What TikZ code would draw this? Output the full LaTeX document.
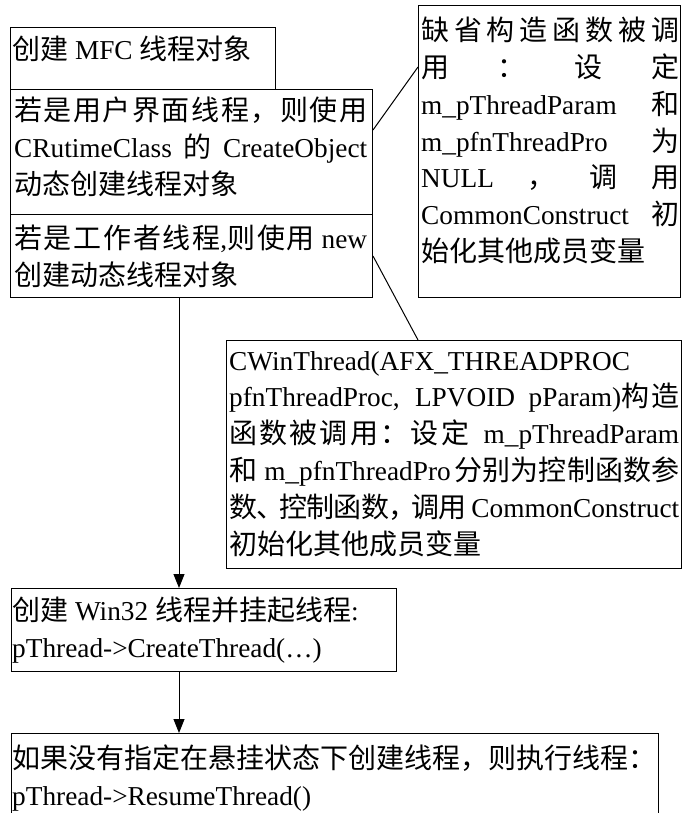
\documentclass[tikz,border=0pt]{standalone}
\usepackage{fontspec}
\setmainfont{Liberation Serif}
\newfontfamily\cjk[Scale=1.0256]{Noto Sans CJK SC}
\usetikzlibrary{arrows.meta}
% automatic switch to the CJK font for CJK characters
\XeTeXinterchartokenstate=1
\ifdefined\newXeTeXintercharclass
  \newXeTeXintercharclass\mycjk
\else
  \chardef\mycjk=20
\fi
\makeatletter
\count@="4E00
\loop \XeTeXcharclass\count@=\mycjk \ifnum\count@<"9FFF \advance\count@\@ne \repeat
\count@="3000
\loop \XeTeXcharclass\count@=\mycjk \ifnum\count@<"303F \advance\count@\@ne \repeat
\count@="FF00
\loop \XeTeXcharclass\count@=\mycjk \ifnum\count@<"FFEF \advance\count@\@ne \repeat
\makeatother
\XeTeXinterchartoks 0 \mycjk = {\begingroup\cjk}
\XeTeXinterchartoks 4095 \mycjk = {\begingroup\cjk}
\XeTeXinterchartoks \mycjk 0 = {\endgroup}
\XeTeXinterchartoks \mycjk 4095 = {\endgroup}
\XeTeXinterchartoks \mycjk \mycjk = {\hskip0pt plus 1pt minus 1pt\relax}
\newcommand\J[1]{\makebox[\linewidth][s]{#1}}
\newcommand\tb[3]{\parbox[t]{#1}{\fontsize{27.3}{#2}\selectfont #3}}
\newcommand\gap{\hfill{}}
\begin{document}
\begin{tikzpicture}[x=1pt,y=-1pt,
  box/.style={draw, line width=1pt, inner sep=0pt, anchor=north west},
  txt/.style={inner sep=0pt, anchor=base west},
  arr/.style={-{Triangle[length=14pt,width=11pt]}, line width=1pt},
  lnk/.style={line width=1pt}]
\clip (0,0) rectangle (682,813);
% boxes
\node[box, minimum width=265pt, minimum height=62pt] (b1) at (10,27) {};
\node[box, minimum width=362pt, minimum height=125pt] (b2) at (10,89) {};
\node[box, minimum width=362pt, minimum height=83pt] (b3) at (10,214) {};
\node[box, minimum width=262pt, minimum height=292pt] (br) at (418,5) {};
\node[box, minimum width=455pt, minimum height=228pt] (bw) at (226,340) {};
\node[box, minimum width=385pt, minimum height=83pt] (b5) at (11,588) {};
\node[box, minimum width=647pt, minimum height=120pt] (b6) at (11,733) {};
% texts
\node[txt] (t1) at (12,59.5) {\tb{260pt}{37}{创建 MFC 线程对象}};
\node[txt] (t2) at (14,121) {\tb{353pt}{37}{\J{若是用户界面线程，则使用}\\
  \J{CRutimeClass 的 CreateObject}\\
  动态创建线程对象}};
\node[txt] (t3) at (14,248) {\tb{353pt}{37}{\J{若是工作者线程,则使用\kern7pt new}\\
  创建动态线程对象}};
\node[txt] (tr) at (421,41) {\tb{258pt}{36.7}{\J{缺省构造函数被调}\\
  \J{用\gap ：\gap 设\gap 定}\\
  \J{m\_pThreadParam 和}\\
  \J{m\_pfnThreadPro 为}\\
  \J{NULL\gap ，\gap 调\gap 用}\\
  \J{CommonConstruct 初}\\
  始化其他成员变量}};
\node[txt] (tw) at (229,370) {\tb{450pt}{36.8}{CWinThread(AFX\_THREADPROC\\
  \J{pfnThreadProc, LPVOID pParam)构造}\\
  \J{函数被调用：设定 m\_pThreadParam}\\
  \J{和 m\_pfnThreadPro\kern4pt 分别为控制函数参}\\
  \J{数、\kern-5pt 控制函数，\kern-5pt 调用 CommonConstruct}\\
  初始化其他成员变量}};
\node[txt] (t5) at (12,620) {\tb{380pt}{37}{创建 Win32 线程并挂起线程:\\
  pThread->CreateThread(…)}};
\node[txt] (t6) at (12,768) {\tb{645pt}{37}{如果没有指定在悬挂状态下创建线程，则执行线程：\\
  pThread->ResumeThread()}};
% helper coordinates
\coordinate (ax) at (179,0);
\coordinate (l1) at (0,130);
\coordinate (l2) at (0,67);
\coordinate (l4) at (418,0);
% connectors
\draw[lnk] (b2.east |- l1) -- (br.west |- l2);
\draw[lnk] (b3.east) -- (bw.north -| l4);
\draw[arr] (ax |- b3.south) -- (ax |- b5.north);
\draw[arr] (ax |- b5.south) -- (ax |- b6.north);
\end{tikzpicture}
\end{document}
